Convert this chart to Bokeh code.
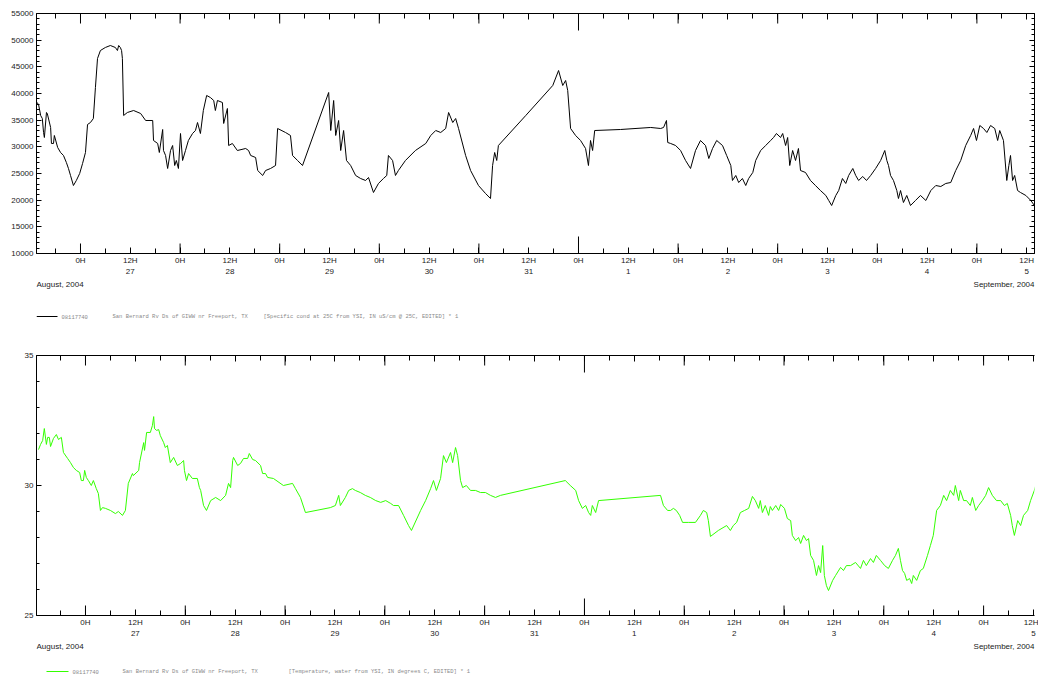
import pandas as pd
from bokeh.plotting import figure
from bokeh.models import (Range1d, LinearAxis, FixedTicker, CustomJSTickFormatter,
                          ColumnDataSource)
from bokeh.core.properties import value
from bokeh.layouts import column
from bokeh.embed import file_html
from bokeh.resources import INLINE

BASE = pd.Timestamp("2004-08-27 00:00")

# Specific conductance (uS/cm @ 25C); hours relative to 2004-08-27 00:00
cond_hours = [
    -10.9, -10.1, -9.6, -9.2, -8.9, -8.7, -8.2, -8.0, -7.2, -7.0,
    -6.5, -6.3, -5.5, -4.8, -4.1, -3.4, -2.9, -2.4, -1.7, -1.0,
    -0.2, 0.5, 1.2, 1.7, 2.4, 3.1, 3.6, 4.1, 4.8, 6.0,
    7.2, 8.4, 8.9, 9.2, 9.6, 9.9, 10.1, 10.4, 11.3, 12.8,
    14.5, 15.7, 17.4, 17.6, 18.6, 19.0, 19.8, 20.0, 20.5, 21.0,
    21.7, 22.2, 22.7, 23.1, 23.6, 24.1, 24.6, 25.3, 26.0, 27.0,
    27.7, 28.2, 28.9, 29.6, 30.4, 31.3, 32.1, 32.5, 33.0, 34.2,
    34.5, 35.4, 35.7, 36.6, 37.8, 39.8, 40.5, 41.0, 42.2, 42.7,
    43.9, 44.6, 45.8, 47.0, 47.5, 49.4, 50.6, 51.1, 52.3, 53.5,
    59.8, 60.3, 61.0, 61.5, 62.2, 62.7, 63.4, 64.1, 65.1, 66.3,
    67.5, 68.7, 69.4, 70.6, 71.8, 73.0, 73.8, 74.2, 75.2, 75.9,
    76.6, 78.3, 80.7, 83.2, 84.4, 85.6, 86.8, 88.0, 88.7, 89.7,
    90.4, 91.1, 92.8, 94.0, 95.9, 97.6, 98.8, 99.3, 99.8, 100.3,
    100.7, 107.3, 113.8, 115.2, 116.2, 116.9, 117.4, 118.1, 119.3, 120.5,
    121.7, 122.4, 122.9, 123.4, 123.9, 130.1, 137.4, 139.8, 140.5, 141.2,
    141.5, 142.2, 143.4, 144.6, 145.8, 147.0, 148.2, 149.4, 150.6, 151.4,
    152.3, 153.3, 154.7, 155.7, 156.7, 157.1, 157.9, 158.6, 159.5, 160.3,
    161.0, 162.0, 162.7, 163.9, 165.1, 166.3, 167.0, 167.7, 168.7, 169.2,
    169.9, 170.4, 170.9, 171.6, 172.3, 173.0, 173.5, 174.7, 175.9, 177.1,
    178.3, 179.6, 180.3, 181.0, 182.0, 182.7, 183.6, 184.4, 185.1, 186.1,
    186.8, 187.5, 188.5, 189.4, 190.4, 191.6, 192.8, 193.8, 194.3, 194.7,
    195.2, 195.9, 196.7, 197.1, 197.6, 198.3, 199.1, 200.0, 201.2, 202.4,
    203.7, 204.9, 206.1, 207.3, 208.5, 209.7, 210.9, 212.1, 213.3, 214.5,
    215.2, 215.9, 216.7, 217.6, 218.4, 219.3, 220.3, 221.0, 221.5, 222.4,
    223.2, 223.7, 224.1, 224.6, 225.1, 225.8, 226.5, 227.8, 229.0, 230.2,
]
cond_values = [
    38690, 37940, 35880, 35310, 32690, 31750, 36440, 36250, 33630, 30630,
    30630, 32130, 29880, 28940, 28380, 27060, 25940, 24630, 22750, 23690,
    25000, 26880, 28940, 34190, 34560, 35310, 41130, 46560, 48060, 48630,
    49000, 48630, 48060, 49000, 48630, 48060, 46560, 35880, 36440, 36810,
    36250, 34940, 34940, 31190, 30630, 28940, 33250, 29310, 28380, 25940,
    29310, 30250, 26500, 27440, 25940, 32500, 27440, 29310, 31190, 32500,
    33060, 34560, 32500, 36810, 39630, 39250, 38690, 36810, 38690, 38310,
    34380, 37190, 30250, 30630, 29310, 29690, 29310, 28380, 28000, 25560,
    24630, 25560, 25940, 26500, 33440, 32690, 32130, 28380, 27440, 26500,
    40190, 33060, 38690, 32130, 34940, 29310, 33060, 27440, 26500, 24630,
    24060, 23690, 24250, 21440, 23130, 24060, 24630, 28380, 27440, 24630,
    25560, 27440, 29310, 30630, 32130, 33060, 32690, 33440, 36440, 34560,
    35310, 33440, 28380, 25560, 22750, 21250, 20310, 26500, 28940, 27440,
    30250, 35880, 41500, 44310, 41500, 42440, 40560, 33440, 32130, 31190,
    29690, 26500, 31190, 29310, 33060, 33250, 33630, 33440, 33630, 34940,
    30810, 30630, 30250, 29310, 27440, 25940, 29310, 31190, 30250, 27810,
    29690, 31190, 30250, 28380, 26500, 23690, 24630, 23310, 24060, 22750,
    24060, 25190, 27440, 29310, 30250, 31190, 31750, 32500, 31750, 32500,
    30250, 31750, 26500, 29310, 27440, 29690, 25560, 25190, 23690, 22750,
    21810, 20880, 19940, 19000, 20880, 21810, 24060, 23130, 24630, 25940,
    24630, 23690, 24440, 23690, 24630, 25940, 27440, 29310, 27440, 26500,
    24630, 23690, 21810, 20310, 21810, 19560, 20880, 19000, 19940, 20880,
    19940, 21810, 22750, 22560, 23130, 23310, 25560, 27440, 30250, 32130,
    33440, 31190, 34000, 33440, 32690, 34000, 33440, 31190, 33060, 31190,
    23690, 26500, 28380, 23690, 24630, 21810, 21440, 20880, 19940, 18630,
]

# Water temperature (degrees C); hours relative to 2004-08-27 00:00
temp_hours = [
    -11.3, -10.8, -10.3, -9.9, -9.4, -9.1, -8.7, -8.4, -7.7, -7.0,
    -6.5, -5.8, -5.3, -4.3, -3.6, -2.9, -2.2, -1.4, -1.0, -0.5,
    -0.2, 0.2, 0.7, 1.4, 1.9, 2.6, 3.1, 3.6, 4.1, 4.8,
    6.0, 7.2, 7.9, 8.9, 9.6, 10.3, 11.3, 11.5, 12.8, 13.0,
    14.0, 14.2, 14.7, 15.6, 16.1, 16.4, 16.6, 17.1, 17.6, 18.0,
    18.8, 19.2, 19.7, 20.4, 21.2, 22.1, 22.9, 23.6, 23.8, 24.3,
    24.8, 25.7, 26.9, 27.4, 27.7, 28.4, 29.1, 30.1, 31.3, 32.5,
    33.7, 34.4, 34.9, 35.4, 35.6, 36.6, 37.3, 38.0, 39.0, 39.4,
    40.2, 40.9, 42.1, 42.6, 43.3, 43.8, 45.2, 47.6, 49.8, 50.5,
    51.7, 52.9, 58.9, 60.1, 60.9, 61.3, 62.5, 63.3, 64.2, 64.9,
    66.1, 67.3, 68.5, 69.8, 71.0, 72.2, 73.4, 74.1, 75.3, 76.5,
    77.7, 78.4, 80.6, 81.8, 83.0, 83.7, 84.4, 85.4, 86.1, 86.8,
    87.8, 88.3, 89.0, 89.5, 90.2, 90.7, 91.6, 92.6, 93.8, 95.0,
    96.2, 97.4, 98.6, 99.8, 115.4, 116.6, 117.9, 118.6, 119.5, 120.3,
    121.0, 121.5, 121.9, 122.7, 123.4, 138.3, 139.0, 140.0, 140.7, 141.4,
    142.1, 142.9, 143.6, 145.0, 146.7, 147.9, 148.6, 149.4, 149.8, 150.3,
    152.2, 154.2, 155.1, 155.8, 156.6, 157.5, 158.5, 159.5, 160.4, 161.1,
    161.9, 162.3, 162.8, 163.5, 164.3, 164.7, 165.2, 166.0, 166.7, 167.2,
    168.1, 168.8, 169.6, 170.0, 170.8, 171.5, 172.0, 172.7, 173.4, 173.9,
    174.4, 175.1, 175.8, 176.3, 176.8, 177.3, 177.7, 178.2, 178.7, 179.7,
    180.4, 181.6, 182.3, 183.0, 184.0, 185.2, 186.4, 187.1, 187.8, 188.8,
    189.5, 190.2, 191.2, 192.2, 193.1, 194.1, 194.8, 195.5, 196.0, 196.5,
    197.0, 197.5, 198.2, 198.7, 199.1, 199.9, 200.8, 201.5, 202.5, 203.2,
    203.9, 204.7, 205.6, 206.4, 207.1, 208.0, 208.8, 209.2, 210.0, 210.4,
    211.2, 211.9, 212.8, 213.3, 214.1, 214.8, 215.7, 216.5, 217.2, 218.1,
    219.1, 220.1, 221.0, 221.7, 222.5, 222.9, 223.4, 224.2, 224.9, 225.6,
    226.6, 227.3, 228.2, 229.2,
]
temp_values = [
    31.38, 31.58, 31.73, 32.19, 31.58, 31.85, 31.85, 31.50, 31.81, 31.96,
    31.77, 31.85, 31.27, 31.04, 30.88, 30.69, 30.58, 30.50, 30.19, 30.19,
    30.58, 30.31, 30.19, 30.00, 30.19, 29.88, 29.69, 29.04, 29.15, 29.12,
    29.04, 28.92, 29.00, 28.85, 29.04, 30.08, 30.46, 30.38, 30.58, 30.88,
    31.65, 31.35, 32.04, 32.04, 32.31, 32.65, 32.19, 32.12, 32.15, 31.92,
    31.65, 31.46, 31.54, 30.88, 31.08, 30.77, 30.85, 30.96, 30.58, 30.19,
    30.46, 30.27, 30.27, 29.92, 29.81, 29.23, 29.04, 29.42, 29.54, 29.42,
    29.62, 30.08, 29.92, 30.96, 31.08, 30.77, 30.85, 31.04, 31.04, 31.23,
    31.00, 30.96, 30.77, 30.46, 30.46, 30.31, 30.27, 30.00, 30.08, 29.88,
    29.54, 28.96, 29.15, 29.23, 29.62, 29.23, 29.54, 29.81, 29.88, 29.81,
    29.73, 29.62, 29.54, 29.42, 29.35, 29.42, 29.31, 29.23, 29.23, 28.85,
    28.46, 28.27, 29.04, 29.42, 29.88, 30.19, 29.81, 30.27, 31.15, 30.88,
    31.27, 30.88, 31.46, 31.15, 30.19, 29.92, 30.00, 29.81, 29.81, 29.73,
    29.73, 29.62, 29.54, 29.62, 30.19, 30.00, 29.81, 29.42, 29.12, 29.23,
    28.96, 28.85, 29.23, 28.96, 29.42, 29.62, 29.23, 29.04, 29.04, 29.12,
    29.04, 28.85, 28.58, 28.58, 28.58, 28.85, 29.04, 28.96, 28.65, 28.04,
    28.27, 28.46, 28.27, 28.46, 28.58, 28.96, 29.04, 29.12, 29.58, 29.42,
    29.12, 29.42, 28.96, 29.23, 28.85, 29.19, 29.04, 29.23, 29.04, 29.27,
    29.12, 28.73, 28.65, 28.08, 27.88, 28.00, 27.77, 28.08, 27.88, 27.96,
    27.31, 27.12, 26.54, 26.92, 26.65, 27.69, 26.54, 26.15, 25.96, 26.35,
    26.54, 26.85, 26.73, 26.92, 26.92, 27.04, 26.81, 27.12, 26.92, 27.19,
    27.04, 27.31, 27.12, 26.92, 26.81, 27.12, 27.31, 27.58, 27.12, 26.73,
    26.62, 26.35, 26.42, 26.23, 26.54, 26.35, 26.73, 26.81, 27.31, 27.69,
    28.08, 29.04, 29.23, 29.62, 29.42, 29.81, 29.62, 30.00, 29.42, 29.81,
    29.42, 29.42, 29.23, 29.54, 29.04, 29.23, 29.42, 29.62, 29.92, 29.62,
    29.42, 29.42, 29.23, 29.31, 28.85, 28.46, 28.08, 28.65, 28.46, 28.85,
    29.04, 29.42, 29.81, 30.38,
]
assert len(cond_hours) == len(cond_values)
assert len(temp_hours) == len(temp_values)

cond_ticks = [10000, 15000, 20000, 25000, 30000, 35000, 40000, 45000, 50000, 55000]
cond_minor = list(range(10000, 55001, 1000))
temp_ticks = [25, 30, 35]
temp_minor = list(range(25, 36, 1))

month_left = "August, 2004"
month_right = "September, 2004"
station = "08117740"
site = "San Bernard Rv Ds of GIWW nr Freeport, TX"
cond_param = "[Specific cond at 25C from YSI, IN uS/cm @ 25C, EDITED] * 1"
temp_param = "[Temperature, water from YSI, IN degrees C, EDITED] * 1"

FONT = "Liberation Sans"
FSIZE = "8px"
TXT = "#222222"
FRAME_W = 998
B_LEFT = 36
B_RIGHT = 4


def ms(h):
    return (BASE + pd.Timedelta(hours=h)).timestamp() * 1000.0


def build(hours, values, color, ylo, yhi, yticks, yminor, x0h, x1h,
          b_top, frame_h, right_axis, foot_h, month_y, leg_y, leg_px, param):
    xr = Range1d(ms(x0h), ms(x1h))
    src = ColumnDataSource(dict(t=[BASE + pd.Timedelta(hours=h) for h in hours],
                                v=values))
    p = figure(frame_width=FRAME_W, frame_height=frame_h,
               x_axis_type=None, y_axis_type=None,
               x_range=xr, y_range=Range1d(ylo, yhi),
               output_backend="svg", toolbar_location=None,
               min_border_left=B_LEFT, min_border_right=B_RIGHT,
               min_border_top=b_top, min_border_bottom=26,
               outline_line_color=None)
    p.line("t", "v", source=src, line_color=color, line_width=1)

    dy = (yhi - ylo) / frame_h

    major_x = [ms(h) for h in range(-24, 253, 12)]
    minor_x = [ms(h) for h in range(-24, 253, 6)]
    hour_fmt = CustomJSTickFormatter(
        code="const d = new Date(tick); return d.getUTCHours() == 0 ? '0H' : '12H';")
    ax = LinearAxis(ticker=FixedTicker(ticks=major_x, minor_ticks=minor_x),
                    formatter=hour_fmt, major_tick_in=6, major_tick_out=0,
                    minor_tick_in=5, minor_tick_out=0, major_label_standoff=2,
                    major_label_text_font=FONT, major_label_text_font_size=FSIZE,
                    major_label_text_color=TXT, axis_line_color="black")
    p.add_layout(ax, "below")

    day_fmt = CustomJSTickFormatter(code="return String(new Date(tick).getUTCDate());")
    ax2 = LinearAxis(ticker=FixedTicker(ticks=[ms(h) for h in range(12, 229, 24)],
                                        minor_ticks=[]),
                     formatter=day_fmt, axis_line_color=None,
                     major_tick_line_color=None, minor_tick_line_color=None,
                     major_tick_in=0, major_tick_out=0, major_label_standoff=1,
                     major_label_text_font=FONT, major_label_text_font_size=FSIZE,
                     major_label_text_color=TXT)
    p.add_layout(ax2, "below")

    top = LinearAxis(ticker=FixedTicker(ticks=major_x, minor_ticks=minor_x),
                     major_label_text_font_size="0px", major_label_text_alpha=0,
                     major_label_standoff=0, major_tick_in=6, major_tick_out=0,
                     minor_tick_in=5, minor_tick_out=0, axis_line_color="black")
    p.add_layout(top, "above")

    ly = LinearAxis(ticker=FixedTicker(ticks=yticks, minor_ticks=yminor),
                    major_tick_in=5, major_tick_out=0, minor_tick_in=3,
                    minor_tick_out=0, major_label_standoff=3,
                    major_label_text_font=FONT, major_label_text_font_size=FSIZE,
                    major_label_text_color=TXT, axis_line_color="black")
    p.add_layout(ly, "left")

    if right_axis:
        ry = LinearAxis(ticker=FixedTicker(ticks=yticks, minor_ticks=yminor),
                        major_label_text_font_size="0px", major_label_text_alpha=0,
                        major_label_standoff=0, major_tick_in=5, major_tick_out=0,
                        minor_tick_in=3, minor_tick_out=0, axis_line_color="black")
        p.add_layout(ry, "right")

    # longer ticks at each day start, longest at the month boundary
    day_h = list(range(0, 217, 24))
    lens = [17 if h == 120 else 10 for h in day_h]
    tsrc = ColumnDataSource(dict(
        x=[ms(h) for h in day_h],
        b0=[ylo] * len(day_h), b1=[ylo + L * dy for L in lens],
        t0=[yhi] * len(day_h), t1=[yhi - L * dy for L in lens]))
    p.segment(x0="x", y0="b0", x1="x", y1="b1", source=tsrc, line_color="black", line_width=1)
    p.segment(x0="x", y0="t0", x1="x", y1="t1", source=tsrc, line_color="black", line_width=1)

    # footer: month names and legend row
    f = figure(frame_width=FRAME_W, frame_height=foot_h,
               x_axis_type=None, y_axis_type=None,
               x_range=xr, y_range=Range1d(foot_h, 0),
               output_backend="svg", toolbar_location=None,
               min_border_left=B_LEFT, min_border_right=B_RIGHT,
               min_border_top=0, min_border_bottom=0,
               outline_line_color=None)
    f.text(x=[ms(x0h)], y=[month_y], text=[month_left], text_align="left",
           text_baseline="middle", text_font=value(FONT), text_font_size=FSIZE,
           text_color=TXT)
    f.text(x=[ms(x1h)], y=[month_y], text=[month_right], text_align="right",
           text_baseline="middle", text_font=value(FONT), text_font_size=FSIZE,
           text_color=TXT)
    mpp = (ms(x1h) - ms(x0h)) / FRAME_W
    g0, g1, s0, s1, s2 = leg_px
    f.segment(x0=[ms(x0h) + g0 * mpp], y0=[leg_y], x1=[ms(x0h) + g1 * mpp], y1=[leg_y],
              line_color=color, line_width=1)
    f.text(x=[ms(x0h) + s * mpp for s in (s0, s1, s2)], y=[leg_y] * 3,
           text=[station, site, param],
           text_align="left", text_baseline="middle",
           text_font=value("Liberation Mono"), text_font_size="5.5px",
           text_color="#8a8a8a")
    return [p, f]


top_parts = build(cond_hours, cond_values, "black", 10000, 55000, cond_ticks, cond_minor,
                  -10.60, 229.88, 13, 240, True,
                  61, 5, 37, (0, 21, 25, 76, 227), cond_param)
bot_parts = build(temp_hours, temp_values, "#33ff00", 25, 35, temp_ticks, temp_minor,
                  -11.78, 228.24, 15, 260, False,
                  36, 5, 30, (10, 32, 36, 86, 252), temp_param)

layout = column(*top_parts, *bot_parts)
open("out.html", "w").write(file_html(layout, INLINE))
